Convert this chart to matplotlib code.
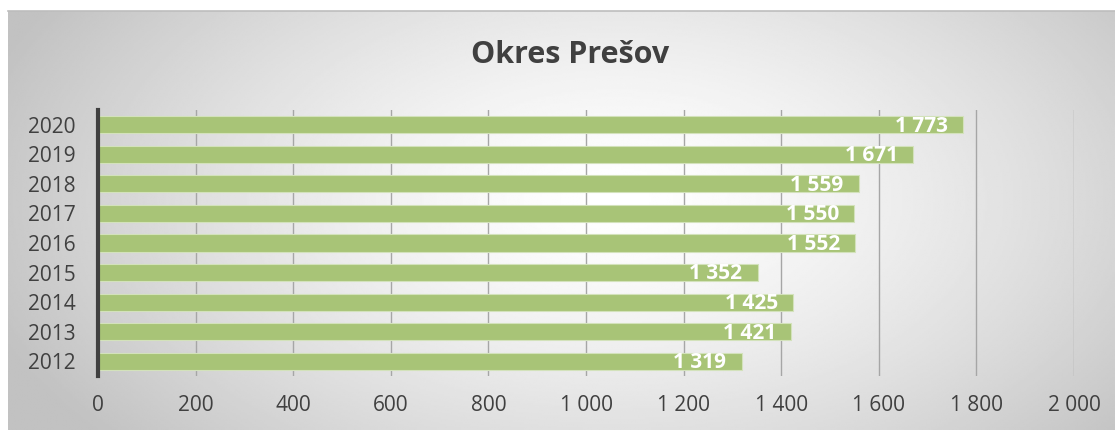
import numpy as np
import matplotlib
matplotlib.use("Agg")
import matplotlib.pyplot as plt
from matplotlib.ticker import FuncFormatter

years = ["2012", "2013", "2014", "2015", "2016", "2017", "2018", "2019", "2020"]
values = [1319, 1421, 1425, 1352, 1552, 1550, 1559, 1671, 1773]
title = "Okres Prešov"
xticks = [0, 200, 400, 600, 800, 1000, 1200, 1400, 1600, 1800, 2000]

plt.rcParams['font.family'] = ['Open Sans', 'DejaVu Sans']

W, H = 1115, 430
fig = plt.figure(figsize=(W / 100, H / 100), dpi=100)
fig.patch.set_facecolor("white")

# background panel with radial gradient
bx0, by_top = 8, 11
bg = fig.add_axes([bx0 / W, 0, 1 - bx0 / W, 1 - by_top / H])
nx, ny = 600, 240
xx, yy = np.meshgrid(np.linspace(0, 1, nx), np.linspace(0, 1, ny))
r = np.sqrt(((xx - 0.55) / 0.6) ** 2 + ((yy - 0.45) / 0.9) ** 2)
r = np.clip(r, 0, 1)
val = 1.0 - 0.24 * r ** 1.4
bg.imshow(val, cmap="gray", vmin=0, vmax=1, aspect="auto", extent=[0, 1, 0, 1],
          interpolation="bilinear")
bg.set_xlim(0, 1); bg.set_ylim(0, 1)
bg.set_xticks([]); bg.set_yticks([])
for s in bg.spines.values():
    s.set_visible(False)
bg.spines['top'].set_visible(True)
bg.spines['top'].set_color("#bdbdbd")
bg.spines['top'].set_linewidth(1.2)

fig.text(570 / W, 1 - 55 / H, title, ha="center", va="center",
         fontsize=22, fontweight="bold", color="#404040")

x0, x1 = 98, 1074
ytop, ybot = 110, 376
ax = fig.add_axes([x0 / W, 1 - ybot / H, (x1 - x0) / W, (ybot - ytop) / H])
ax.patch.set_alpha(0)
ypos = np.arange(len(years))
ax.barh(ypos, values, height=0.58, color="#a8c477", edgecolor="#d3e2bb",
        linewidth=0.8, zorder=3)
ax.set_xlim(0, 2000)
ax.set_ylim(-0.5, len(years) - 0.5)
ax.set_xticks(xticks)
ax.xaxis.set_major_formatter(FuncFormatter(lambda v, p: f"{int(v):,}".replace(",", " ")))
ax.set_yticks(ypos)
ax.set_yticklabels(years)
ax.tick_params(axis="both", length=0, labelsize=15, colors="#404040")
ax.tick_params(axis="y", pad=16)
ax.tick_params(axis="x", pad=14)
ax.grid(axis="x", color="#a6a6a6", linewidth=1.0, zorder=1)
for s in ["top", "right", "bottom"]:
    ax.spines[s].set_visible(False)
ax.spines["left"].set_color("#404040")
ax.spines["left"].set_linewidth(3)
ax.spines["left"].set_zorder(4)

for y, v in zip(ypos, values):
    ax.annotate(f"{v:,}".replace(",", " "), xy=(v, y), xytext=(-11, -1),
                textcoords="offset points", ha="right", va="center",
                fontsize=15, fontweight="bold", color="white", zorder=5)

fig.savefig("out.png", dpi=100)
